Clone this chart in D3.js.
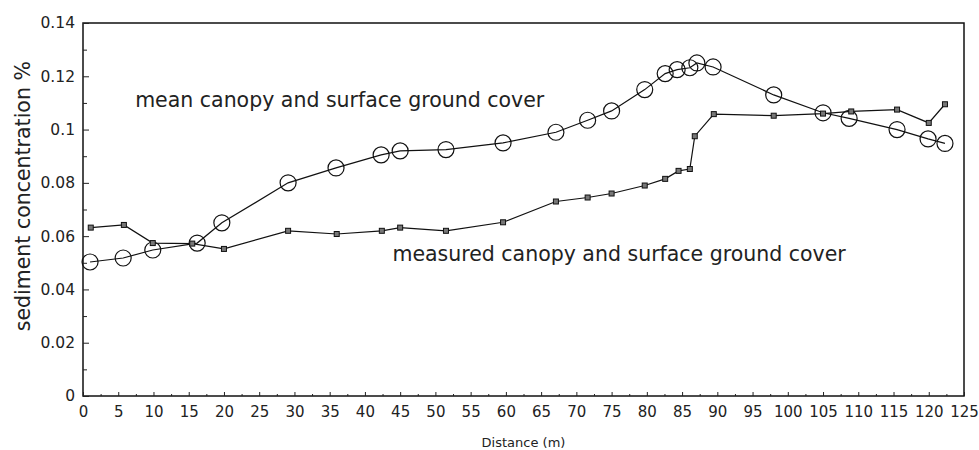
<!DOCTYPE html>
<html>
<head>
<meta charset="utf-8">
<script src="https://cdnjs.cloudflare.com/ajax/libs/d3/7.8.5/d3.min.js"></script>
<style>
  body { margin: 0; background: #fff; }
  text { font-family: "DejaVu Sans", sans-serif; fill: #222; }
</style>
</head>
<body>
<svg id="chart"></svg>
<script>
// distance (m) and sediment concentration
const meanX = [1, 5.7, 9.9, 16.2, 19.7, 29.1, 35.9, 42.3, 45, 51.5, 59.6, 67.1, 71.6, 75, 79.7, 82.6, 84.3, 86.1, 87.1, 89.4, 98, 105, 108.7, 115.5, 119.9, 122.3]
const meanY = [0.0503, 0.0518, 0.0548, 0.0574, 0.065, 0.0800, 0.0856, 0.0905, 0.0920, 0.0925, 0.0950, 0.0990, 0.1035, 0.1070, 0.1150, 0.1210, 0.1225, 0.1232, 0.1250, 0.1235, 0.1130, 0.1063, 0.1042, 0.1000, 0.0965, 0.0948]

const measX = [1.1, 5.8, 9.9, 15.5, 20, 29.1, 36, 42.4, 45, 51.5, 59.6, 67.1, 71.6, 75, 79.7, 82.6, 84.5, 86.1, 86.8, 89.5, 98, 105, 109, 115.5, 120, 122.3]
const measY = [0.0632, 0.0642, 0.0574, 0.0572, 0.0552, 0.0620, 0.0608, 0.0620, 0.0632, 0.0620, 0.0652, 0.0730, 0.0745, 0.0760, 0.0790, 0.0815, 0.0845, 0.0852, 0.0975, 0.1058, 0.1052, 0.1060, 0.1068, 0.1075, 0.1025, 0.1095]

const xTicks = d3.range(0, 126, 5)
const yTicks = [0, 0.02, 0.04, 0.06, 0.08, 0.1, 0.12, 0.14]
const yTickLabels = ['0', '0.02', '0.04', '0.06', '0.08', '0.1', '0.12', '0.14']

const width = 979, height = 450
const margin = { top: 23, right: 15, bottom: 54, left: 83 }
const innerW = width - margin.left - margin.right
const innerH = height - margin.top - margin.bottom

const svg = d3.select('#chart').attr('width', width).attr('height', height)
const chart = svg.append('g').attr('transform', `translate(${margin.left}, ${margin.top})`)

const xScale = d3.scaleLinear().domain([0, 125]).range([0, innerW])
const yScale = d3.scaleLinear().domain([0, 0.14]).range([innerH, 0])

// frame
chart.append('rect')
    .attr('width', innerW).attr('height', innerH)
    .attr('fill', 'none').attr('stroke', '#111').attr('stroke-width', 1.5)

// x axis: inward ticks, labels below
const xAxis = d3.axisBottom(xScale).tickValues(xTicks).tickSize(-4).tickPadding(10).tickFormat(d3.format('d'))
chart.append('g')
    .attr('class', 'axis x-axis')
    .attr('transform', `translate(0, ${innerH})`)
    .call(xAxis)
    .call(g => g.select('.domain').remove())
    .call(g => g.selectAll('text').attr('font-size', 15))

const xMinor = d3.axisBottom(xScale).tickValues(d3.range(2.5, 125, 5)).tickSize(-2).tickFormat('')
chart.append('g').attr('transform', `translate(0, ${innerH})`).call(xMinor)
    .call(g => g.select('.domain').remove())

// y axis: inward ticks
const yAxis = d3.axisLeft(yScale).tickValues(yTicks).tickSize(-6).tickPadding(8)
    .tickFormat((d, i) => yTickLabels[i])
chart.append('g')
    .attr('class', 'axis y-axis')
    .call(yAxis)
    .call(g => g.select('.domain').remove())
    .call(g => g.selectAll('text').attr('font-size', 15.5))

const yMinor = d3.axisLeft(yScale).tickValues(d3.range(0.01, 0.14, 0.02)).tickSize(-4).tickFormat('')
chart.append('g').call(yMinor).call(g => g.select('.domain').remove())

chart.selectAll('.tick line').attr('stroke', '#222')

const line = d3.line()
    .x(d => xScale(d[0]))
    .y(d => yScale(d[1]))

const meanPts = meanX.map((x, i) => [x, meanY[i]])
const measPts = measX.map((x, i) => [x, measY[i]])

chart.append('path').datum(meanPts)
    .attr('fill', 'none').attr('stroke', '#111').attr('stroke-width', 1.2)
    .attr('d', line)
chart.append('path').datum(measPts)
    .attr('fill', 'none').attr('stroke', '#111').attr('stroke-width', 1.2)
    .attr('d', line)

chart.selectAll('.mean-pt').data(meanPts).join('circle')
    .attr('class', 'mean-pt')
    .attr('cx', d => xScale(d[0])).attr('cy', d => yScale(d[1]))
    .attr('r', 8)
    .attr('fill', 'none').attr('stroke', '#111').attr('stroke-width', 1.2)

chart.selectAll('.meas-pt').data(measPts).join('rect')
    .attr('class', 'meas-pt')
    .attr('x', d => xScale(d[0]) - 2.5).attr('y', d => yScale(d[1]) - 2.5)
    .attr('width', 5).attr('height', 5)
    .attr('fill', '#777').attr('stroke', '#111').attr('stroke-width', 1)

// series labels
chart.append('text')
    .attr('x', xScale(7.4)).attr('y', yScale(0.1085))
    .attr('font-size', 20.5)
    .text('mean canopy and surface ground cover')

chart.append('text')
    .attr('x', xScale(43.9)).attr('y', yScale(0.0505))
    .attr('font-size', 20.5)
    .text('measured canopy and surface ground cover')

// axis titles
svg.append('text')
    .attr('x', margin.left + xScale(62.5)).attr('y', 447)
    .attr('text-anchor', 'middle').attr('font-size', 13)
    .text('Distance (m)')

svg.append('text')
    .attr('transform', `translate(30, ${margin.top + yScale(0.075)}) rotate(-90)`)
    .attr('text-anchor', 'middle').attr('font-size', 20.5)
    .text('sediment concentration %')
</script>
</body>
</html>
